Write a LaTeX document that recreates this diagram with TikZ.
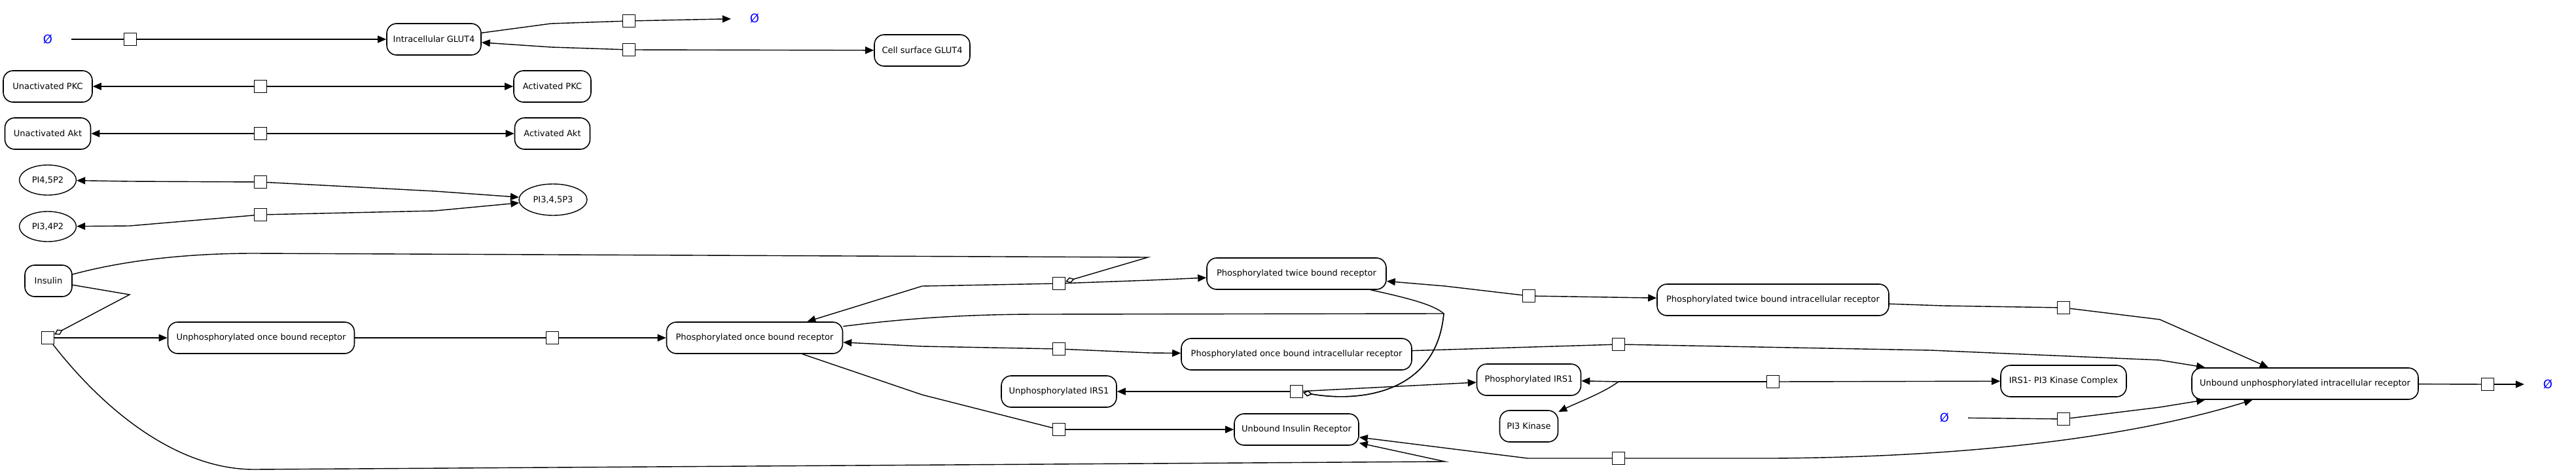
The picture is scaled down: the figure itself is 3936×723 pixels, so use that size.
\documentclass[tikz,border=0pt]{standalone}
\usepackage{fontspec}
\setmainfont{DejaVu Sans}
\usetikzlibrary{arrows.meta,shapes.geometric}

\tikzset{
	species/.style={draw, line width=1.6pt, rounded corners=15pt, fill=white, minimum height=48pt, inner xsep=4pt, font=\fontsize{13}{15}\selectfont},
	lipid/.style={draw, ellipse, line width=1.4pt, fill=white, minimum width=87pt, minimum height=46pt, inner sep=0pt, font=\fontsize{13}{15}\selectfont},
	sink/.style={text=blue, minimum width=72pt, inner sep=0pt, font=\fontsize{18}{20}\selectfont},
	procbox/.style={draw, line width=1.4pt, fill=white, minimum size=19pt, inner sep=0pt},
	flux/.style={line width=1.4pt},
	prod/.style={flux, -{Triangle[length=13pt,width=11pt]}},
	modul/.style={flux, -{Diamond[open,length=14pt,width=9pt,fill=white]}},
}

\begin{document}
\begin{tikzpicture}[x=1pt, y=-1pt]
	\useasboundingbox (0,0) rectangle (3936,723);

	% Species
	\node[sink] (e1) at (73,60) {Ø};
	\node[species, minimum width=144pt] (glutIn) at (663,60) {Intracellular GLUT4};
	\node[sink] (e2) at (1153,28) {Ø};
	\node[species, minimum width=146pt] (glutOut) at (1409,77) {Cell surface GLUT4};
	\node[species, minimum width=136pt] (pkcU) at (73,132) {Unactivated PKC};
	\node[species, minimum width=118pt] (pkcA) at (844,132) {Activated PKC};
	\node[species, minimum width=131pt] (aktU) at (73,204) {Unactivated Akt};
	\node[species, minimum width=115pt] (aktA) at (844,204) {Activated Akt};
	\node[lipid] (pip2) at (73,275) {PI4,5P2};
	\node[lipid] (pi34) at (73,346) {PI3,4P2};
	\node[lipid, minimum width=104pt, minimum height=48pt] (pip3) at (845,305) {PI3,4,5P3};
	\node[species, minimum width=72pt] (ins) at (74,429) {Insulin};
	\node[species, minimum width=285pt] (rU) at (399,516) {Unphosphorylated once bound receptor};
	\node[species, minimum width=269pt] (rP1) at (1153,516) {Phosphorylated once bound receptor};
	\node[species, minimum width=274pt] (rP2) at (1981,418) {Phosphorylated twice bound receptor};
	\node[species, minimum width=354pt] (rP2i) at (2709,458) {Phosphorylated twice bound intracellular receptor};
	\node[species, minimum width=352pt] (rP1i) at (1981,541) {Phosphorylated once bound intracellular receptor};
	\node[species, minimum width=176pt] (irsU) at (1618,598) {Unphosphorylated IRS1};
	\node[species, minimum width=159pt] (irsP) at (2336,580) {Phosphorylated IRS1};
	\node[species, minimum width=89pt] (pi3k) at (2336,651) {PI3 Kinase};
	\node[species, minimum width=192pt] (cplx) at (3153,582) {IRS1- PI3 Kinase Complex};
	\node[species, minimum width=190pt] (rUb) at (1981,656) {Unbound Insulin Receptor};
	\node[species, minimum width=346pt] (rUi) at (3522,586) {Unbound unphosphorylated intracellular receptor};
	\node[sink] (e3) at (2971,638) {Ø};
	\node[sink] (e4) at (3893,587) {Ø};

	% Processes
	\node[procbox] (p1) at (199,60) {};
	\node[procbox] (p2) at (961,32) {};
	\node[procbox] (p3) at (961,76) {};
	\node[procbox] (p4) at (398,132) {};
	\node[procbox] (p5) at (398,204) {};
	\node[procbox] (p6) at (398,278) {};
	\node[procbox] (p7) at (398,328) {};
	\node[procbox] (p8) at (73,516) {};
	\node[procbox] (p9) at (844,516) {};
	\node[procbox] (p10) at (1618,433) {};
	\node[procbox] (p11) at (1618,533) {};
	\node[procbox] (p12) at (1618,656) {};
	\node[procbox] (p13) at (1981,598) {};
	\node[procbox] (p14) at (2336,452) {};
	\node[procbox] (p15) at (2473,526) {};
	\node[procbox] (p16) at (2709,583) {};
	\node[procbox] (p17) at (2473,700) {};
	\node[procbox] (p18) at (3153,470) {};
	\node[procbox] (p19) at (3153,640) {};
	\node[procbox] (p20) at (3801,587) {};
	\coordinate (j16) at (2473,583);

	% GLUT4
	\draw[flux] (e1) -- (p1);
	\draw[prod] (p1) -- (glutIn);
	\draw[flux] (glutIn) -- (842,36) -- (p2);
	\draw[prod] (p2) -- (e2);
	\draw[prod] (p3) -- (842,72) -- (glutIn);
	\draw[prod] (p3) -- (glutOut);

	% PKC and Akt
	\draw[prod] (p4) -- (pkcU);
	\draw[prod] (p4) -- (pkcA);
	\draw[prod] (p5) -- (aktU);
	\draw[prod] (p5) -- (aktA);

	% Lipids
	\draw[prod] (p6) -- (198,277) -- (pip2);
	\draw[prod] (p6) -- (664,292) -- (pip3);
	\draw[prod] (p7) -- (198,345) -- (pi34);
	\draw[prod] (p7) -- (664,322) -- (pip3);

	% Insulin binding
	\draw[modul] (ins) -- (198,450) -- (p8);
	\draw[prod] (p8) -- (rU);
	\draw[prod] (p8) .. controls (170,640) and (280,717) .. (388,717) -- (2208,705) -- (rUb);
	\draw[flux] (rU) -- (p9);
	\draw[prod] (p9) -- (rP1);
	\draw[modul] (ins) .. controls (200,395) and (300,387) .. (388,387) -- (1754,393) -- (p10);
	\draw[prod] (p10) -- (1409,437) -- (rP1);
	\draw[prod] (p10) -- (1757,428) -- (rP2);

	% Receptor traffic
	\draw[prod] (p11) -- (1409,529) -- (rP1);
	\draw[prod] (p11) -- (1757,539) -- (rP1i);
	\draw[flux] (rP1) -- (1409,603) -- (p12);
	\draw[prod] (p12) -- (rUb);
	\draw[prod] (p14) -- (2208,437) -- (rP2);
	\draw[prod] (p14) -- (rP2i);
	\draw[flux] (rP1i) -- (p15);
	\draw[prod] (p15) -- (2950,535) -- (3300,550) -- (rUi);
	\draw[prod] (p17) -- (2334,700) -- (rUb);
	\draw[prod] (p17) -- (2710,700) .. controls (3000,698) and (3250,670) .. (rUi);
	\draw[flux] (rP2i) -- (2969,467) -- (p18);
	\draw[prod] (p18) -- (3300,488) -- (rUi);
	\draw[flux] (e3) -- (p19);
	\draw[prod] (p19) -- (3300,622) -- (rUi);
	\draw[flux] (rUi) -- (p20);
	\draw[prod] (p20) -- (e4);

	% IRS1
	\draw[prod] (p13) -- (irsU);
	\draw[prod] (p13) -- (irsP);
	\draw[modul] (rP1) .. controls (1400,484) and (1500,480) .. (1588,480) -- (2206,479) .. controls (2195,600) and (2080,615) .. (p13);
	\draw[modul] (rP2) .. controls (2150,455) and (2190,465) .. (2206,479) .. controls (2195,600) and (2080,615) .. (p13);
	\draw[flux] (p16) -- (j16);
	\draw[prod] (j16) -- (irsP);
	\draw[prod] (j16) .. controls (2450,600) and (2410,615) .. (pi3k);
	\draw[prod] (p16) -- (cplx);
\end{tikzpicture}
\end{document}
